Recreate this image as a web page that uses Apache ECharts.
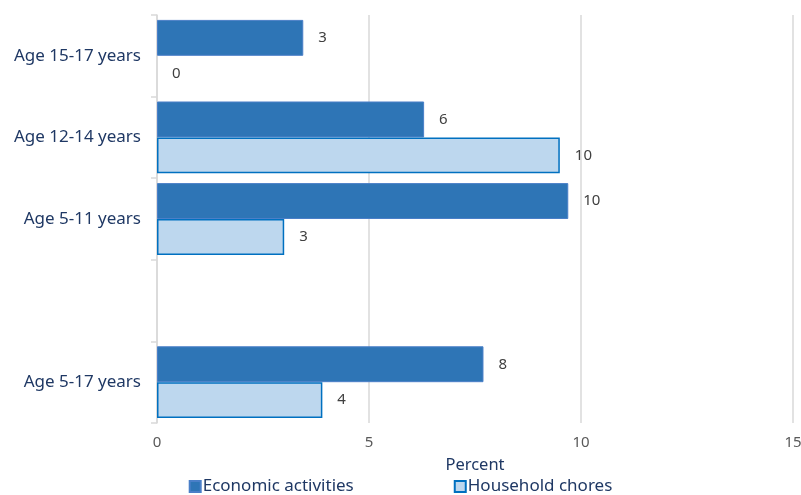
<!DOCTYPE html>
<html>
<head>
<meta charset="utf-8">
<script src="https://cdn.jsdelivr.net/npm/echarts@6/dist/echarts.min.js"></script>
<style>
  html, body { margin: 0; padding: 0; background: #fff; }
  #main { width: 801px; height: 495px; }
</style>
</head>
<body>
<div id="main"></div>
<script>
"use strict";
// categories top to bottom, blank row is the gap before the total
let categories = ['Age 15-17 years', 'Age 12-14 years', 'Age 5-11 years', '', 'Age 5-17 years'];
let economicActivities = [3.45, 6.3, 9.7, null, 7.7];
let householdChores = [0, 9.5, 3.0, null, 3.9];
let seriesNames = ['Economic activities', 'Household chores'];
let xTicks = [0, 5, 10, 15];

let myChart = echarts.init(document.getElementById('main'));
let fontName = 'Noto Sans';
let navy = '#1F3864';

let labelOpt = {
    show: true,
    position: 'right',
    distance: 15,
    color: '#404040',
    fontFamily: fontName,
    fontSize: 15,
    formatter: function (p) { return p.value == null ? '' : Math.round(p.value); }
};

let option = {
    animation: false,
    textStyle: { fontFamily: fontName },
    grid: { left: 157, right: 8, top: 15, bottom: 72, outerBoundsMode: 'none' },
    legend: {
        data: seriesNames,
        top: 473,
        left: 'center',
        icon: 'rect',
        itemWidth: 11,
        itemHeight: 11,
        itemGap: 100,
        textStyle: { color: navy, fontSize: 17, fontFamily: fontName, padding: [0, 0, 0, -3] }
    },
    xAxis: {
        type: 'value',
        min: xTicks[0],
        max: xTicks[xTicks.length - 1],
        interval: 5,
        name: 'Percent',
        nameLocation: 'middle',
        nameGap: 34,
        nameTextStyle: { color: navy, fontSize: 16.5, fontFamily: fontName },
        axisLine: { show: false },
        axisTick: { show: false },
        axisLabel: { color: '#595959', fontSize: 15, margin: 12, fontFamily: fontName },
        splitLine: { lineStyle: { color: '#D9D9D9', width: 1.5 } }
    },
    yAxis: {
        type: 'category',
        data: categories,
        inverse: true,
        axisLine: { show: true, lineStyle: { color: '#D9D9D9', width: 1.5 } },
        axisTick: { show: true, length: 6, lineStyle: { color: '#D9D9D9', width: 1.5 } },
        axisLabel: { color: navy, fontSize: 17, margin: 16, fontFamily: fontName }
    },
    series: [
        {
            name: seriesNames[0],
            type: 'bar',
            data: economicActivities,
            barGap: '0%',
            barCategoryGap: '12%',
            itemStyle: { color: '#2E75B6', borderColor: '#4A7FC8', borderWidth: 1 },
            label: labelOpt
        },
        {
            name: seriesNames[1],
            type: 'bar',
            data: householdChores.map(function (v) {
                return v === 0 ? { value: v, itemStyle: { borderWidth: 0 } } : v;
            }),
            itemStyle: { color: '#BDD7EE', borderColor: '#0070C0', borderWidth: 1.5 },
            label: labelOpt
        }
    ]
};
myChart.setOption(option);
</script>
</body>
</html>
